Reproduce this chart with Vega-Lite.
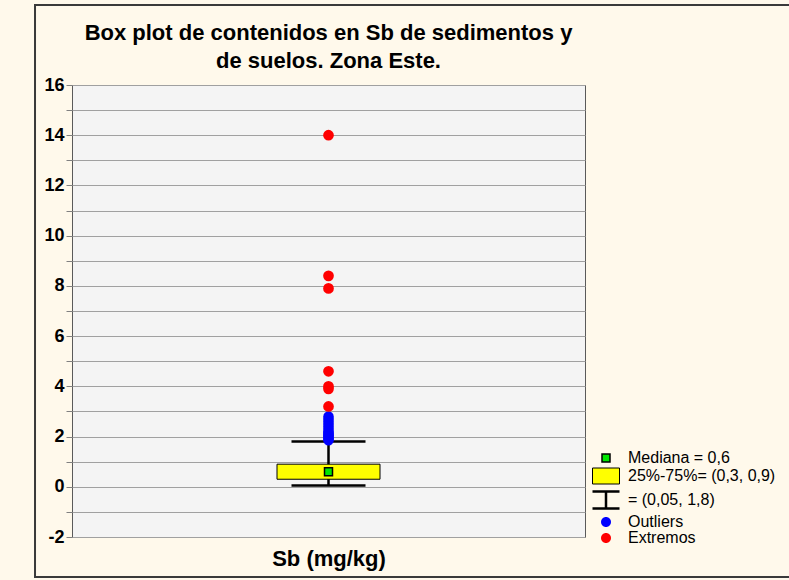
{
  "$schema": "https://vega.github.io/schema/vega-lite/v6.json",
  "width": 513,
  "height": 452,
  "autosize": {"type": "none"},
  "padding": {"left": 72, "top": 85, "right": 204, "bottom": 43},
  "background": "#FFF9EB",
  "title": {
    "text": ["Box plot de contenidos en Sb de sedimentos y", "de suelos. Zona Este."],
    "font": "Liberation Sans",
    "fontSize": 22,
    "fontWeight": "bold",
    "color": "black",
    "anchor": "middle",
    "frame": "group",
    "offset": -69,
    "lineHeight": 28
  },
  "config": {
    "view": {"fill": "#F4F4F4", "stroke": "#5A5A5A", "strokeWidth": 1},
    "font": "Liberation Sans",
    "axisX": {
      "labels": false, "ticks": false, "domain": false, "grid": false,
      "titleFont": "Liberation Sans", "titleFontSize": 22, "titleFontWeight": "bold",
      "titleColor": "black", "titlePadding": 11
    },
    "axisY": {
      "grid": true, "gridColor": "#A0A0A0", "gridWidth": 1,
      "tickCount": 18,
      "labelExpr": "datum.value % 2 === 0 ? replace(datum.label, '\u2212', '-') : ''",
      "labelOverlap": false,
      "domain": false, "tickColor": "#808080", "tickSize": 6,
      "labelFont": "Liberation Sans", "labelFontSize": 18, "labelFontWeight": "bold",
      "labelColor": "black", "labelPadding": 2
    }
  },
  "datasets": {
    "stats": [{"variable": "Sb (mg/kg)", "lo": 0.05, "q1": 0.3, "med": 0.6, "q3": 0.9, "hi": 1.8}],
    "outliers": [
      {"v": 1.85}, {"v": 1.9}, {"v": 1.95}, {"v": 2.0}, {"v": 2.05}, {"v": 2.1}, {"v": 2.15},
      {"v": 2.2}, {"v": 2.3}, {"v": 2.4}, {"v": 2.5}, {"v": 2.6}, {"v": 2.7}, {"v": 2.8}
    ],
    "extremes": [
      {"v": 3.2}, {"v": 3.9}, {"v": 4.0}, {"v": 4.6}, {"v": 7.9}, {"v": 8.4}, {"v": 14.0}
    ],
    "legend": [
      {"item": "Mediana = 0,6"},
      {"item": "25%-75%= (0,3, 0,9)"},
      {"item": "= (0,05, 1,8)"},
      {"item": "Outliers"},
      {"item": "Extremos"}
    ]
  },
  "layer": [
    {
      "data": {"values": [{}]},
      "mark": {"type": "rect", "fill": "transparent", "stroke": "#3A3A3A", "strokeWidth": 2, "clip": false},
      "encoding": {
        "x": {
          "datum": -0.0721, "type": "quantitative",
          "scale": {"domain": [0, 1], "nice": false, "zero": false, "padding": 0},
          "axis": {"title": "Sb (mg/kg)"}
        },
        "x2": {"datum": 1.42},
        "y": {
          "datum": -3.593, "type": "quantitative",
          "scale": {"domain": [-2, 16], "nice": false, "zero": false, "padding": 0},
          "axis": {"title": null}
        },
        "y2": {"datum": 19.186}
      }
    },
    {
      "data": {"name": "stats"},
      "mark": {"type": "rule", "color": "black", "strokeWidth": 2.5},
      "encoding": {
        "x": {"datum": 0.5, "type": "quantitative", "axis": {"title": "Sb (mg/kg)"}},
        "y": {"field": "lo", "type": "quantitative", "axis": {"title": null}},
        "y2": {"field": "hi"}
      }
    },
    {
      "data": {"name": "stats"},
      "mark": {"type": "tick", "orient": "horizontal", "color": "black", "size": 74, "thickness": 2.5, "opacity": 1},
      "encoding": {
        "x": {"datum": 0.5, "type": "quantitative", "axis": {"title": "Sb (mg/kg)"}},
        "y": {"field": "lo", "type": "quantitative", "axis": {"title": null}}
      }
    },
    {
      "data": {"name": "stats"},
      "mark": {"type": "tick", "orient": "horizontal", "color": "black", "size": 74, "thickness": 2.5, "opacity": 1},
      "encoding": {
        "x": {"datum": 0.5, "type": "quantitative", "axis": {"title": "Sb (mg/kg)"}},
        "y": {"field": "hi", "type": "quantitative", "axis": {"title": null}}
      }
    },
    {
      "data": {"name": "stats"},
      "mark": {"type": "bar", "fill": "#FFFF00", "stroke": "black", "strokeWidth": 1, "width": 103, "orient": "vertical"},
      "encoding": {
        "x": {"datum": 0.5, "type": "quantitative", "axis": {"title": "Sb (mg/kg)"}},
        "y": {"field": "q1", "type": "quantitative", "axis": {"title": null}},
        "y2": {"field": "q3"}
      }
    },
    {
      "data": {"name": "stats"},
      "mark": {"type": "point", "shape": "square", "filled": true, "fill": "#00E600", "stroke": "black", "strokeWidth": 1.5, "size": 64, "opacity": 1},
      "encoding": {
        "x": {"datum": 0.5, "type": "quantitative", "axis": {"title": "Sb (mg/kg)"}},
        "y": {"field": "med", "type": "quantitative", "axis": {"title": null}}
      }
    },
    {
      "data": {"name": "outliers"},
      "mark": {"type": "point", "shape": "circle", "filled": true, "color": "#0000FF", "size": 110, "opacity": 1},
      "encoding": {
        "x": {"datum": 0.5, "type": "quantitative", "axis": {"title": "Sb (mg/kg)"}},
        "y": {"field": "v", "type": "quantitative", "axis": {"title": null}}
      }
    },
    {
      "data": {"name": "extremes"},
      "mark": {"type": "point", "shape": "circle", "filled": true, "color": "#FF0000", "size": 115, "opacity": 1},
      "encoding": {
        "x": {"datum": 0.5, "type": "quantitative", "axis": {"title": "Sb (mg/kg)"}},
        "y": {"field": "v", "type": "quantitative", "axis": {"title": null}}
      }
    },
    {
      "data": {"name": "legend"},
      "mark": {"type": "point", "filled": true, "opacity": 0, "size": 400},
      "encoding": {
        "x": {"datum": 0.5, "type": "quantitative", "axis": {"title": "Sb (mg/kg)"}},
        "y": {"datum": 0.6, "type": "quantitative", "axis": {"title": null}},
        "color": {
          "field": "item", "type": "nominal",
          "scale": {
            "domain": ["Mediana = 0,6", "25%-75%= (0,3, 0,9)", "= (0,05, 1,8)", "Outliers", "Extremos"],
            "range": ["#00E600", "#FFFF00", "#000000", "#0000FF", "#FF0000"]
          },
          "legend": {
            "orient": "none", "legendX": 526, "legendY": 365,
            "title": null, "padding": 0, "rowPadding": 0,
            "symbolSize": 400, "symbolOpacity": 1,
            "labelFont": "Liberation Sans", "labelFontSize": 16, "labelColor": "black",
            "labelOffset": 14, "labelLimit": 400,
            "encode": {
              "symbols": {
                "update": {
                  "opacity": {"value": 1},
                  "fill": {"signal": "datum.value === '= (0,05, 1,8)' ? 'transparent' : scale('color', datum.value)"},
                  "stroke": {"signal": "(datum.value === 'Outliers' || datum.value === 'Extremos') ? 'transparent' : 'black'"},
                  "strokeWidth": {"signal": "datum.value === '= (0,05, 1,8)' ? 2.5 : (datum.value === 'Mediana = 0,6' ? 1.5 : 1)"}
                }
              }
            }
          }
        },
        "shape": {
          "field": "item", "type": "nominal",
          "scale": {
            "domain": ["Mediana = 0,6", "25%-75%= (0,3, 0,9)", "= (0,05, 1,8)", "Outliers", "Extremos"],
            "range": [
              "M-0.4,-0.4H0.4V0.4H-0.4Z",
              "M-1.35,-0.8H1.35V0.8H-1.35Z",
              "M-1.35,-0.85H1.35M0,-0.85V0.85M-1.35,0.85H1.35",
              "M0.5,0A0.5,0.5,0,1,1,-0.5,0A0.5,0.5,0,1,1,0.5,0Z",
              "M0.5,0A0.5,0.5,0,1,1,-0.5,0A0.5,0.5,0,1,1,0.5,0Z"
            ]
          }
        }
      }
    }
  ]
}
